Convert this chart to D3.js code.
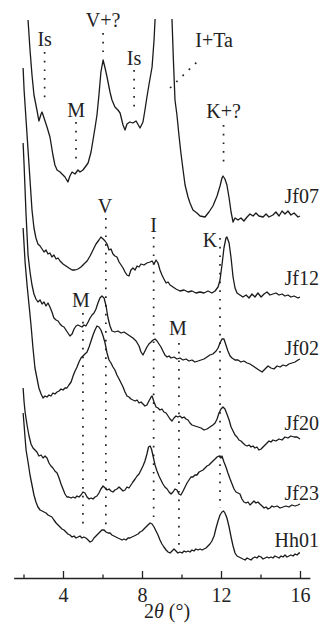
<!DOCTYPE html>
<html>
<head>
<meta charset="utf-8">
<script src="https://cdn.jsdelivr.net/npm/d3@7"></script>
<style>
  html, body { margin: 0; padding: 0; background: #fff; }
  svg { display: block; }
  text { font-family: "Liberation Serif", "Times New Roman", serif; fill: #222; }
</style>
</head>
<body>
<svg id="chart" width="322" height="625"></svg>
<script>
// XRD patterns, 2θ (°) vs stacked intensity (a.u.), top to bottom
const sampleNames = ["Jf07", "Jf12", "Jf02", "Jf20", "Jf23", "Hh01"];

const jf07 = [[2.23,558],[2.33,528],[2.43,503],[2.53,483],[2.68,468],[2.78,457],[2.89,464],[2.94,466],[3.04,460],[3.19,451],[3.34,441],[3.49,423],[3.59,413],[3.70,408],[3.85,406],[3.95,404],[4.10,401],[4.25,396],[4.35,402],[4.46,406],[4.61,404],[4.76,408],[4.86,406],[5.01,408],[5.16,412],[5.27,415],[5.42,426],[5.52,438],[5.62,450],[5.72,463],[5.82,483],[5.92,506],[6.03,518],[6.13,510],[6.23,501],[6.38,486],[6.48,478],[6.63,471],[6.78,468],[6.89,465],[7.04,453],[7.14,448],[7.24,454],[7.39,456],[7.54,455],[7.70,457],[7.90,450],[8.05,456],[8.15,468],[8.25,481],[8.35,493],[8.51,511],[8.61,538],[8.66,558],[9.06,720],[9.52,558],[9.59,518],[9.67,478],[9.77,463],[9.87,443],[9.97,425],[10.08,408],[10.18,393],[10.33,381],[10.43,375],[10.58,368],[10.78,365],[10.94,362],[11.19,361],[11.39,366],[11.59,372],[11.80,382],[11.95,392],[12.05,400],[12.10,402],[12.20,399],[12.30,393],[12.41,380],[12.51,366],[12.61,356],[12.71,360],[12.86,358],[13.01,360],[13.16,357],[13.32,361],[13.47,364],[13.62,362],[13.77,365],[13.92,362],[14.13,361],[14.28,364],[14.43,361],[14.63,363],[14.78,366],[14.94,362],[15.09,367],[15.24,364],[15.39,367],[15.54,363],[15.70,365],[15.90,361],[16.00,362]];

const jf12 = [[1.98,510],[2.03,488],[2.13,458],[2.23,428],[2.33,398],[2.43,368],[2.53,350],[2.63,340],[2.73,334],[2.84,332],[2.94,329],[3.04,326],[3.14,328],[3.24,324],[3.34,325],[3.44,321],[3.54,323],[3.65,319],[3.75,320],[3.85,317],[4.00,314],[4.15,312],[4.30,310],[4.46,308],[4.61,308],[4.76,309],[4.91,311],[5.06,314],[5.22,317],[5.37,322],[5.52,328],[5.67,334],[5.82,338],[5.92,341],[6.03,339],[6.13,337],[6.23,334],[6.33,328],[6.43,329],[6.53,324],[6.63,322],[6.73,321],[6.84,316],[6.94,313],[7.04,310],[7.14,306],[7.24,303],[7.34,302],[7.44,308],[7.54,310],[7.65,308],[7.75,312],[7.85,311],[7.95,314],[8.10,313],[8.25,315],[8.41,316],[8.51,317],[8.61,314],[8.71,318],[8.81,315],[8.91,308],[9.01,303],[9.11,299],[9.22,295],[9.32,296],[9.42,293],[9.57,291],[9.72,289],[9.92,287],[10.13,288],[10.33,286],[10.53,287],[10.73,285],[10.94,286],[11.14,285],[11.34,287],[11.54,285],[11.70,287],[11.85,291],[11.95,298],[12.05,313],[12.15,330],[12.25,340],[12.30,341],[12.41,335],[12.51,320],[12.61,301],[12.71,290],[12.81,285],[12.96,283],[13.11,281],[13.27,283],[13.42,280],[13.57,284],[13.72,281],[13.87,285],[14.03,281],[14.18,284],[14.33,286],[14.48,283],[14.63,284],[14.78,285],[14.94,283],[15.09,284],[15.24,282],[15.39,283],[15.54,281],[15.70,282],[15.90,280],[16.00,281]];

const jf02 = [[1.98,435],[2.03,413],[2.08,388],[2.13,363],[2.18,343],[2.23,323],[2.33,306],[2.43,293],[2.53,284],[2.63,279],[2.73,276],[2.84,278],[2.94,274],[3.04,276],[3.14,272],[3.24,275],[3.34,271],[3.44,266],[3.54,260],[3.65,258],[3.75,257],[3.85,254],[3.95,252],[4.05,251],[4.15,248],[4.25,245],[4.35,242],[4.46,244],[4.56,249],[4.66,252],[4.76,253],[4.86,252],[4.96,251],[5.06,253],[5.16,252],[5.27,256],[5.37,260],[5.47,263],[5.57,265],[5.67,269],[5.77,275],[5.87,280],[5.97,282],[6.08,280],[6.18,272],[6.28,260],[6.38,252],[6.48,247],[6.63,246],[6.78,247],[6.94,245],[7.09,246],[7.24,244],[7.39,242],[7.54,240],[7.70,237],[7.85,232],[7.95,226],[8.05,223],[8.15,227],[8.25,231],[8.35,234],[8.46,236],[8.56,238],[8.66,239],[8.76,237],[8.86,234],[8.96,231],[9.06,227],[9.16,223],[9.27,221],[9.37,222],[9.47,220],[9.62,221],[9.77,219],[9.92,220],[10.08,218],[10.23,219],[10.38,217],[10.53,218],[10.68,216],[10.84,217],[10.99,218],[11.14,219],[11.29,221],[11.44,223],[11.59,224],[11.75,227],[11.85,230],[11.95,235],[12.05,239],[12.15,239],[12.25,233],[12.35,227],[12.46,222],[12.56,220],[12.71,218],[12.86,218],[13.01,216],[13.16,217],[13.32,215],[13.47,214],[13.62,212],[13.77,210],[13.92,208],[14.08,206],[14.23,209],[14.38,212],[14.53,210],[14.68,209],[14.84,212],[14.99,211],[15.14,213],[15.29,212],[15.44,214],[15.59,215],[15.75,216],[15.90,218],[16.00,219]];

const jf20 = [[1.98,350],[2.03,333],[2.08,316],[2.18,293],[2.28,273],[2.38,253],[2.48,230],[2.58,210],[2.68,200],[2.78,190],[2.89,184],[2.99,180],[3.09,182],[3.19,181],[3.29,183],[3.39,182],[3.49,185],[3.59,184],[3.70,186],[3.80,187],[3.90,189],[4.00,188],[4.10,190],[4.20,190],[4.30,193],[4.41,196],[4.51,202],[4.61,207],[4.71,211],[4.81,216],[4.91,220],[5.01,222],[5.11,224],[5.22,226],[5.32,231],[5.42,237],[5.52,243],[5.62,248],[5.72,252],[5.82,251],[5.92,248],[6.03,242],[6.13,235],[6.23,225],[6.33,218],[6.43,215],[6.53,211],[6.63,208],[6.73,203],[6.84,199],[6.94,195],[7.04,191],[7.14,186],[7.24,182],[7.34,181],[7.44,179],[7.54,178],[7.65,177],[7.75,178],[7.85,175],[7.95,176],[8.05,174],[8.15,172],[8.25,173],[8.35,177],[8.46,181],[8.51,182],[8.61,176],[8.71,171],[8.81,170],[8.91,168],[9.01,169],[9.11,166],[9.22,165],[9.32,162],[9.42,159],[9.52,157],[9.62,160],[9.72,162],[9.82,161],[9.92,162],[10.03,160],[10.13,161],[10.23,159],[10.33,158],[10.43,155],[10.53,153],[10.68,152],[10.84,151],[10.99,150],[11.14,148],[11.29,149],[11.44,151],[11.59,153],[11.70,155],[11.80,159],[11.90,165],[12.00,169],[12.10,171],[12.20,169],[12.30,164],[12.41,158],[12.51,151],[12.61,147],[12.71,143],[12.81,141],[12.91,138],[13.01,137],[13.11,135],[13.22,133],[13.32,132],[13.42,133],[13.52,131],[13.62,132],[13.72,130],[13.82,131],[13.92,128],[14.03,129],[14.13,131],[14.23,133],[14.33,135],[14.43,137],[14.53,136],[14.63,138],[14.78,137],[14.94,139],[15.09,138],[15.24,141],[15.39,140],[15.54,142],[15.70,141],[15.85,141],[16.00,139]];

const jf23 = [[1.98,190],[2.03,176],[2.08,166],[2.18,153],[2.28,142],[2.38,134],[2.48,130],[2.58,128],[2.68,126],[2.78,122],[2.89,123],[2.99,120],[3.09,122],[3.19,120],[3.29,115],[3.39,112],[3.49,110],[3.59,107],[3.70,105],[3.80,100],[3.90,94],[4.00,89],[4.10,84],[4.20,81],[4.30,81],[4.41,80],[4.51,81],[4.61,80],[4.71,82],[4.81,81],[4.91,83],[5.01,86],[5.11,85],[5.22,81],[5.32,79],[5.42,80],[5.52,79],[5.62,81],[5.72,82],[5.82,85],[5.92,89],[6.03,92],[6.13,90],[6.23,88],[6.33,89],[6.43,87],[6.53,86],[6.63,88],[6.73,89],[6.84,91],[6.94,89],[7.04,87],[7.14,88],[7.24,91],[7.34,90],[7.44,93],[7.54,96],[7.65,99],[7.75,102],[7.85,104],[7.95,108],[8.05,112],[8.15,117],[8.25,124],[8.33,131],[8.41,132],[8.48,129],[8.56,122],[8.66,113],[8.76,107],[8.86,102],[8.96,98],[9.06,94],[9.16,91],[9.27,89],[9.37,86],[9.47,84],[9.57,86],[9.67,89],[9.77,88],[9.87,84],[9.97,83],[10.08,87],[10.18,91],[10.28,95],[10.38,98],[10.48,101],[10.58,101],[10.68,103],[10.78,103],[10.89,106],[10.99,107],[11.09,108],[11.19,110],[11.29,112],[11.39,113],[11.49,115],[11.59,117],[11.70,119],[11.80,121],[11.90,122],[12.00,120],[12.05,122],[12.15,116],[12.25,111],[12.35,105],[12.46,99],[12.56,94],[12.66,89],[12.76,86],[12.86,85],[12.96,84],[13.06,79],[13.16,76],[13.27,75],[13.37,76],[13.47,73],[13.57,75],[13.67,77],[13.77,75],[13.87,76],[13.97,74],[14.08,72],[14.18,70],[14.28,71],[14.38,69],[14.48,70],[14.58,72],[14.68,71],[14.84,72],[14.99,70],[15.14,71],[15.29,72],[15.44,71],[15.59,73],[15.75,72],[15.90,73],[16.00,74]];

const hh01 = [[1.98,165],[2.03,153],[2.08,140],[2.13,128],[2.23,116],[2.33,103],[2.43,93],[2.53,83],[2.63,76],[2.73,71],[2.84,68],[2.94,67],[3.04,66],[3.14,65],[3.24,63],[3.34,62],[3.44,61],[3.54,58],[3.65,55],[3.75,53],[3.85,51],[3.95,49],[4.05,48],[4.15,46],[4.25,44],[4.35,43],[4.46,41],[4.56,42],[4.66,40],[4.76,41],[4.86,42],[4.96,40],[5.06,41],[5.16,40],[5.27,38],[5.37,36],[5.47,37],[5.57,40],[5.67,42],[5.77,44],[5.87,46],[5.97,48],[6.08,48],[6.18,46],[6.28,45],[6.38,45],[6.48,43],[6.58,42],[6.68,41],[6.78,40],[6.89,39],[6.99,38],[7.09,39],[7.19,38],[7.29,40],[7.39,40],[7.49,41],[7.60,42],[7.70,43],[7.80,44],[7.90,46],[8.00,47],[8.10,49],[8.20,51],[8.30,53],[8.41,55],[8.51,54],[8.61,51],[8.71,47],[8.81,43],[8.91,38],[9.01,34],[9.11,31],[9.22,28],[9.32,26],[9.42,25],[9.52,27],[9.62,29],[9.72,27],[9.82,25],[9.92,26],[10.03,25],[10.13,27],[10.23,26],[10.33,27],[10.43,26],[10.53,28],[10.63,27],[10.73,29],[10.84,28],[10.94,29],[11.04,28],[11.14,29],[11.24,30],[11.34,32],[11.44,34],[11.54,37],[11.65,42],[11.75,50],[11.85,57],[11.95,63],[12.05,66],[12.13,67],[12.20,65],[12.30,60],[12.41,51],[12.51,41],[12.61,32],[12.71,25],[12.81,22],[12.91,21],[13.01,20],[13.11,19],[13.22,18],[13.32,20],[13.42,19],[13.52,18],[13.62,20],[13.72,21],[13.82,20],[13.92,22],[14.03,21],[14.13,19],[14.23,20],[14.33,21],[14.43,20],[14.53,21],[14.63,20],[14.73,22],[14.84,21],[14.94,20],[15.04,22],[15.14,21],[15.24,23],[15.34,21],[15.44,22],[15.54,23],[15.65,22],[15.75,24],[15.85,23],[15.95,25],[16.00,25]];

const series = [jf07, jf12, jf02, jf20, jf23, hh01];

// reflection markers: phase label and 2θ position
const peakLabels = ["Is", "V+?", "M", "Is", "K+?", "V", "I", "K", "M", "M"];
const peakAngles = [3.07, 6.03, 4.66, 7.60, 12.13, 6.17, 8.59, 11.95, 5.01, 9.87];

const majorTicks = [4, 8, 12, 16];
const minorTicks = [2, 6, 10, 14];

const W = 322, H = 625;
const svg = d3.select("#chart");

const x = d3.scaleLinear().domain([1.5, 16.5]).range([13.625, 309.875]);
const y = d3.scaleLinear().domain([0, 560]).range([578, 18]);

svg.append("defs").append("clipPath").attr("id", "plot-clip")
  .append("rect").attr("x", 0).attr("y", 19).attr("width", W).attr("height", H - 19);

// dotted reference lines: vertical extent (intensity) and label anchor
const markerLayout = [
  { top: 526, bottom: 478, labelI: 532 },
  { top: 545, bottom: 523, labelI: 551 },
  { top: 456, bottom: 416, labelI: 461 },
  { top: 508, bottom: 465, labelI: 513 },
  { top: 453, bottom: 413, labelI: 460 },
  { top: 360, bottom: 51, labelI: 365, dt: -0.05 },
  { top: 341, bottom: 56, labelI: 346 },
  { top: 340, bottom: 70, labelI: 331, dt: -0.51 },
  { top: 265, bottom: 51, labelI: 271, dt: -0.1 },
  { top: 235, bottom: 28, labelI: 243, dt: -0.05 }
];

const dots = svg.append("g").attr("class", "markers")
  .attr("stroke", "#222").attr("stroke-width", 1.7)
  .attr("stroke-dasharray", "1.7 7").attr("fill", "none");

peakAngles.forEach((t, i) => {
  const m = markerLayout[i];
  dots.append("line")
    .attr("x1", x(t)).attr("x2", x(t))
    .attr("y1", y(m.top)).attr("y2", y(m.bottom));
  svg.append("text")
    .attr("x", x(t + (m.dt || 0)))
    .attr("y", y(m.labelI))
    .attr("text-anchor", "middle")
    .style("font-size", "20px")
    .text(peakLabels[i]);
});

// slanted pointer for the off-scale I+Ta reflection
dots.append("line")
  .attr("x1", x(9.42)).attr("y1", y(490))
  .attr("x2", x(10.94)).attr("y2", y(519));
svg.append("text")
  .attr("x", x(11.65)).attr("y", y(531))
  .attr("text-anchor", "middle")
  .style("font-size", "20px")
  .text("I+Ta");

// traces
const line = d3.line().x(d => x(d[0])).y(d => y(d[1]));
svg.append("g").attr("clip-path", "url(#plot-clip)")
  .selectAll("path").data(series).join("path")
  .attr("d", line)
  .attr("fill", "none")
  .attr("stroke", "#1a1a1a")
  .attr("stroke-width", 1.3)
  .attr("stroke-linejoin", "round");

// sample names at the right end of each trace
const nameOffset = [13, 12, 4, 9, 4, 6];
series.forEach((s, i) => {
  svg.append("text")
    .attr("x", x(16.96))
    .attr("y", y(s[s.length - 1][1] + nameOffset[i]))
    .attr("text-anchor", "end")
    .style("font-size", "20px")
    .text(sampleNames[i]);
});

// x axis, ticks pointing up
const axisG = svg.append("g").attr("transform", "translate(0,578)");
axisG.call(d3.axisBottom(x).tickValues(majorTicks).tickSize(-7).tickSizeOuter(0).tickPadding(10));
axisG.append("g").call(d3.axisBottom(x).tickValues(minorTicks).tickSize(-3.5).tickSizeOuter(0).tickFormat(""))
  .select(".domain").remove();
axisG.selectAll("path, line").attr("stroke", "#222").attr("stroke-width", 1.3);
axisG.selectAll("text")
  .attr("fill", "#222")
  .style("font-family", "'Liberation Serif', 'Times New Roman', serif")
  .style("font-size", "20px");

const title = svg.append("text")
  .attr("x", x(9.27)).attr("y", 618)
  .attr("text-anchor", "middle")
  .style("font-size", "20px");
title.append("tspan").text("2");
title.append("tspan").style("font-style", "italic").text("θ");
title.append("tspan").text(" (°)");
</script>
</body>
</html>
